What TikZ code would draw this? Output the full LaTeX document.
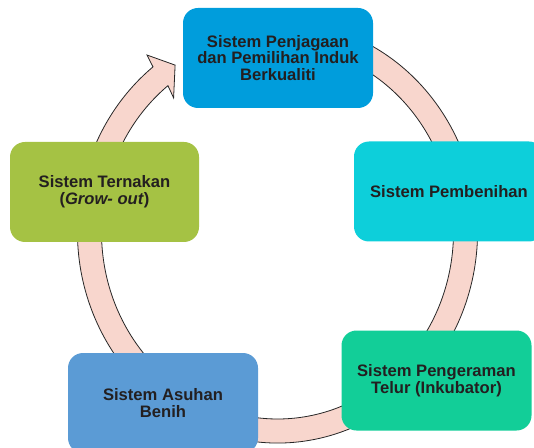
\documentclass[tikz,border=0pt]{standalone}
\usepackage{fontspec}
\setmainfont{Liberation Sans}
\usetikzlibrary{calc}
\definecolor{jagablue}{RGB}{0,157,220}
\definecolor{benihcyan}{RGB}{13,207,218}
\definecolor{eramgreen}{RGB}{18,206,152}
\definecolor{asuhblue}{RGB}{91,155,213}
\definecolor{ternakolive}{RGB}{165,194,68}
\definecolor{ringpink}{RGB}{248,214,205}
\definecolor{inkgray}{RGB}{35,31,32}
\def\ringpt(#1:#2:#3){({277.5+#2*cos(#1)},{215+#3*sin(#1)})}
\tikzset{
  sistem/.style={rounded corners=15pt, minimum width=190pt, minimum height=100pt,
    align=center, text=inkgray, font=\fontsize{16.6}{16.7}\selectfont\bfseries},
  ring/.style={fill=ringpink, draw=black!85, line width=0.8pt, line join=miter}
}

\begin{document}
\begin{tikzpicture}[x=1pt, y=1pt]
		%%%%% START %%%%%
		\useasboundingbox (0, 0) rectangle (534, 447);
		\clip (0, 0) rectangle (534, 447);
		
		\draw[ring] \ringpt(75:200:211)
			arc[start angle=75, end angle=-231.5, x radius=200, y radius=211]
			-- \ringpt(127.8:213:224) -- \ringpt(123:188:199) -- \ringpt(129.6:163:174)
			-- \ringpt(128.5:176:187)
			arc[start angle=128.5, end angle=435, x radius=176, y radius=187] -- cycle;
		
		\node[sistem, fill=jagablue] (jaga) at (278, 389) {Sistem Penjagaan\\dan Pemilihan Induk\\Berkualiti};
		\node[sistem, fill=benihcyan] (benih) at (449, 255.5) {Sistem Pembenihan};
		\node[sistem, fill=eramgreen] (eram) at (436.5, 66.5) {Sistem Pengeraman\\Telur (Inkubator)};
		\node[sistem, fill=asuhblue] (asuh) at (163, 44) {Sistem Asuhan\\Benih};
		\node[sistem, fill=ternakolive, minimum width=189pt] (ternak) at (104.5, 255) {Sistem Ternakan\\(\textit{Grow- out})};
		
		%%%%% END %%%%%
	\end{tikzpicture}
\end{document}
